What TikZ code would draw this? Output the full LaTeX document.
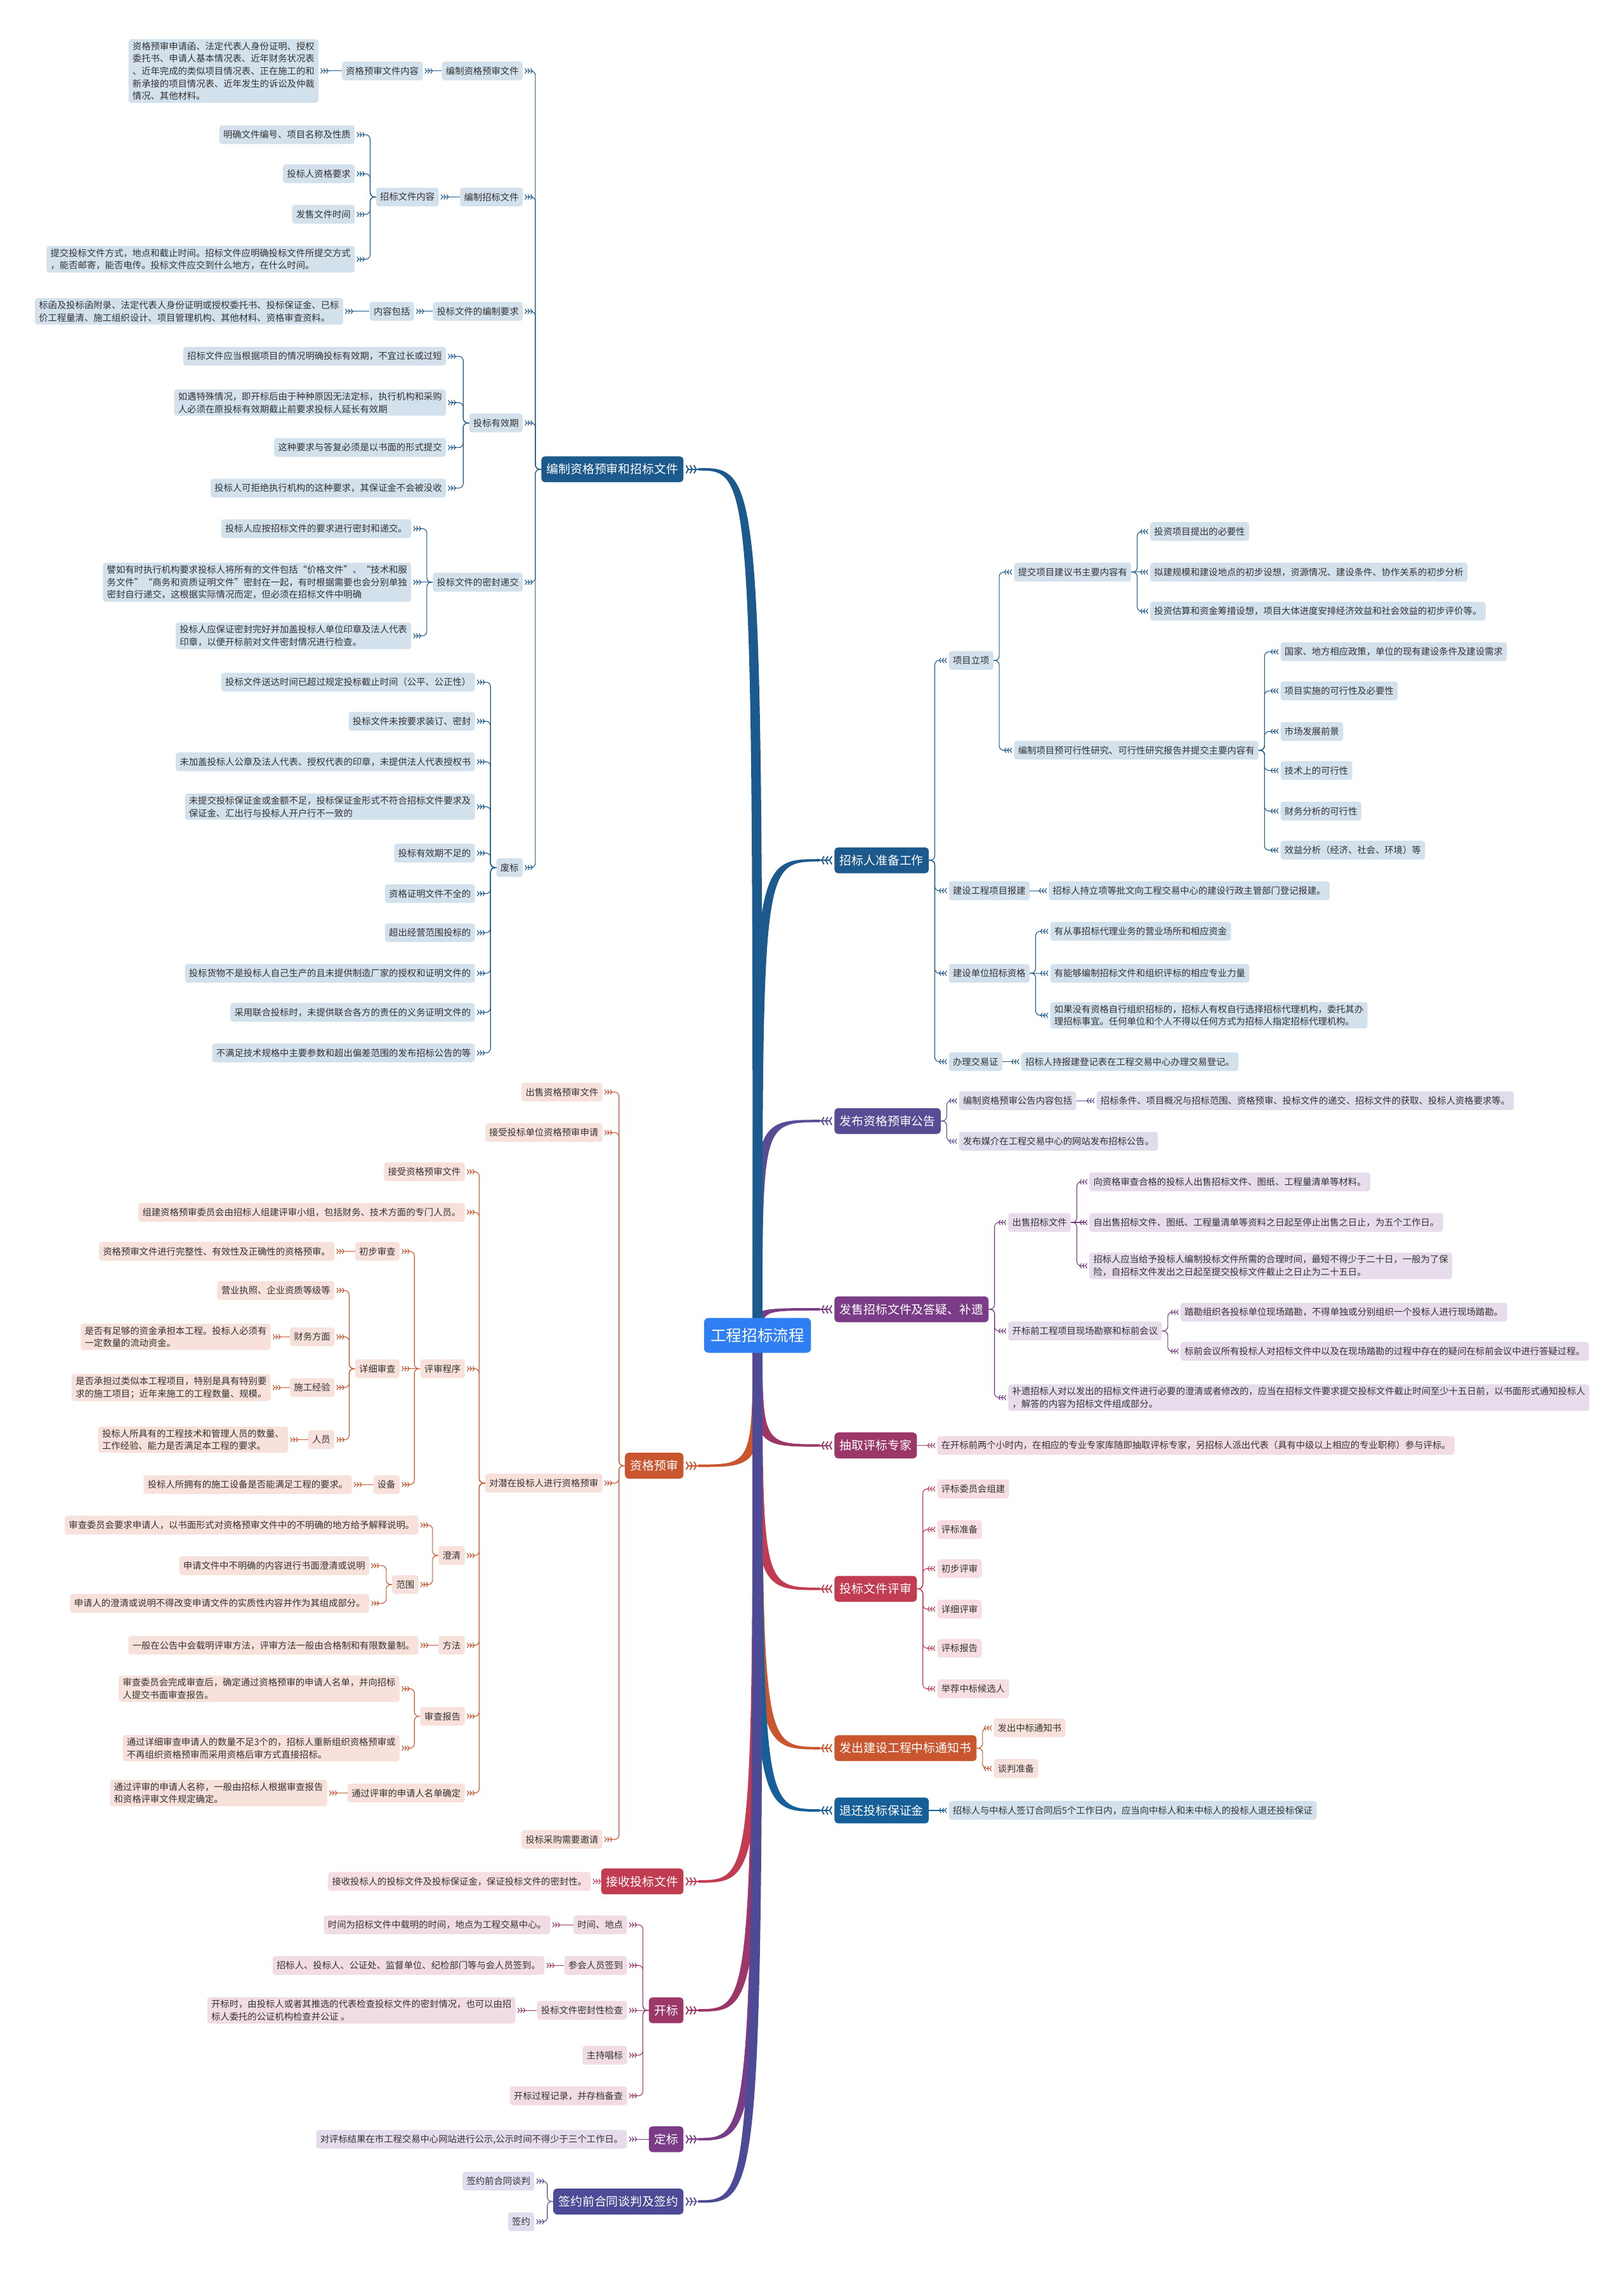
\documentclass[tikz,border=0pt]{standalone}
\usepackage{fontspec}
\setmainfont{Noto Sans CJK SC}
\usetikzlibrary{arrows.meta,calc,positioning}

\definecolor{ink}{HTML}{333333}
\definecolor{topicblue}{HTML}{2F7EF2}
\definecolor{navy}{HTML}{1C5A8E}
\definecolor{navylt}{HTML}{D3E1ED}
\definecolor{indigo}{HTML}{584C95}
\definecolor{indigolt}{HTML}{DFDCEC}
\definecolor{plum}{HTML}{7A3C86}
\definecolor{plumlt}{HTML}{E7DCEB}
\definecolor{berry}{HTML}{9C3769}
\definecolor{berrylt}{HTML}{F1DCE5}
\definecolor{rose}{HTML}{C23C51}
\definecolor{roselt}{HTML}{F7DEE2}
\definecolor{rust}{HTML}{C9562F}
\definecolor{rustlt}{HTML}{F7E1DA}
\definecolor{sea}{HTML}{165F99}
\definecolor{iris}{HTML}{4D4A96}
\definecolor{irislt}{HTML}{E0DEEE}

\pgfdeclarelayer{bg}
\pgfsetlayers{bg,main}

\newcommand{\leaffont}{\fontsize{10.2}{14}\selectfont}
\newcommand{\branchfont}{\fontsize{13.4}{16}\selectfont}
\newcommand{\topicfont}{\fontsize{17.5}{21}\selectfont}

% tapered band from the central topic to a branch
\newcommand{\trunk}[3]{%
  \fill[fill=#1] let \p1=(root.center), \p2=(#2) in
    ({\x1-5.5pt},\y1) .. controls ({\x1-5.5pt},{\y2+(#3)*1.4pt}) .. ({\x2},{\y2+(#3)*1.4pt})
    -- ({\x2},{\y2-(#3)*1.4pt}) .. controls ({\x1+5.5pt},{\y2-(#3)*1.4pt}) .. ({\x1+5.5pt},\y1) -- cycle;}

\begin{document}
\begin{tikzpicture}[
  x=0.5709mm, y=-0.5709mm,
  box/.style={rectangle, rounded corners=3pt, fill=#1, text=ink, font=\leaffont,
    inner xsep=4.5pt, inner ysep=3pt, minimum height=21pt, align=left},
  lbox/.style={box=#1, anchor=east},
  rbox/.style={box=#1, anchor=west},
  branch/.style={rectangle, rounded corners=4pt, fill=#1, text=white, font=\branchfont,
    inner xsep=6pt, minimum height=29pt},
  topic/.style={rectangle, rounded corners=5pt, fill=topicblue, text=white, font=\topicfont,
    inner xsep=7.5pt, minimum height=39pt},
  chev/.style={-{Straight Barb[reversed,length=1.8pt,width=5.5pt,sep=0.5pt]
    Straight Barb[reversed,length=1.8pt,width=5.5pt,sep=0.5pt]
    Straight Barb[reversed,length=1.8pt,width=5.5pt,sep=0.5pt]}},
  link/.style={draw=#1, line width=0.8pt, rounded corners=5pt, shorten >=1.5pt, chev},
  bigchev/.style={draw=#1, line width=1.3pt,
    -{Straight Barb[reversed,length=2.5pt,width=9pt,sep=0.5pt]
    Straight Barb[reversed,length=2.5pt,width=9pt,sep=0.5pt]
    Straight Barb[reversed,length=2.5pt,width=9pt,sep=0.5pt]}}
]
\useasboundingbox (0,0) rectangle (1121,1568);
\begin{pgfonlayer}{bg}
  \fill[white] (0,0) rectangle (1121,1568);
\end{pgfonlayer}

\node[topic] (root) at (523,922) {工程招标流程};

% main branches
\node[branch=navy, anchor=west] (prepare) at (576,594) {招标人准备工作};
\node[branch=indigo, anchor=west] (notice) at (576,774) {发布资格预审公告};
\node[branch=plum, anchor=west] (sell) at (576,904) {发售招标文件及答疑、补遗};
\node[branch=berry, anchor=west] (expert) at (576,998) {抽取评标专家};
\node[branch=rose, anchor=west] (review) at (576,1097) {投标文件评审};
\node[branch=rust, anchor=west] (notify) at (576,1207) {发出建设工程中标通知书};
\node[branch=sea, anchor=west] (refund) at (576,1250) {退还投标保证金};
\node[branch=navy, anchor=east] (compile) at (472,324) {编制资格预审和招标文件};
\node[branch=rust, anchor=east] (prequal) at (472,1012) {资格预审};
\node[branch=rose, anchor=east] (receive) at (472,1299) {接收投标文件};
\node[branch=berry, anchor=east] (opening) at (472,1388) {开标};
\node[branch=plum, anchor=east] (award) at (472,1477) {定标};
\node[branch=iris, anchor=east] (sign) at (472,1520) {签约前合同谈判及签约};

% 编制资格预审和招标文件
\node[lbox=navylt] (c1) at (361,49) {编制资格预审文件};
\node[lbox=navylt] (c11) at (292,49) {资格预审文件内容};
\node[lbox=navylt] (c111) at (220,49) {资格预审申请函、法定代表人身份证明、授权\\委托书、申请人基本情况表、近年财务状况表\\、近年完成的类似项目情况表、正在施工的和\\新承接的项目情况表、近年发生的诉讼及仲裁\\情况、其他材料。};
\node[lbox=navylt] (c2) at (361,136) {编制招标文件};
\node[lbox=navylt] (c21) at (303,136) {招标文件内容};
\node[lbox=navylt] (c211) at (245,93) {明确文件编号、项目名称及性质};
\node[lbox=navylt] (c212) at (245,120) {投标人资格要求};
\node[lbox=navylt] (c213) at (245,148) {发售文件时间};
\node[lbox=navylt] (c214) at (245,179) {提交投标文件方式，地点和截止时间。招标文件应明确投标文件所提交方式\\，能否邮寄，能否电传。投标文件应交到什么地方，在什么时间。};
\node[lbox=navylt] (c3) at (361,215) {投标文件的编制要求};
\node[lbox=navylt] (c31) at (286,215) {内容包括};
\node[lbox=navylt] (c311) at (237,215) {标函及投标函附录、法定代表人身份证明或授权委托书、投标保证金、已标\\价工程量清、施工组织设计、项目管理机构、其他材料、资格审查资料。};
\node[lbox=navylt] (c4) at (361,292) {投标有效期};
\node[lbox=navylt] (c41) at (308,246) {招标文件应当根据项目的情况明确投标有效期，不宜过长或过短};
\node[lbox=navylt] (c42) at (308,278) {如遇特殊情况，即开标后由于种种原因无法定标，执行机构和采购\\人必须在原投标有效期截止前要求投标人延长有效期};
\node[lbox=navylt] (c43) at (308,309) {这种要求与答复必须是以书面的形式提交};
\node[lbox=navylt] (c44) at (308,337) {投标人可拒绝执行机构的这种要求，其保证金不会被没收};
\node[lbox=navylt] (c5) at (361,402) {投标文件的密封递交};
\node[lbox=navylt] (c51) at (284,365) {投标人应按招标文件的要求进行密封和递交。};
\node[lbox=navylt] (c52) at (284,402) {譬如有时执行机构要求投标人将所有的文件包括“价格文件”、“技术和服\\务文件”“商务和资质证明文件”密封在一起，有时根据需要也会分别单独\\密封自行递交，这根据实际情况而定，但必须在招标文件中明确};
\node[lbox=navylt] (c53) at (284,439) {投标人应保证密封完好并加盖投标人单位印章及法人代表\\印章，以便开标前对文件密封情况进行检查。};
\node[lbox=navylt] (c6) at (361,599) {废标};
\node[lbox=navylt] (c61) at (328,471) {投标文件送达时间已超过规定投标截止时间（公平、公正性）};
\node[lbox=navylt] (c62) at (328,498) {投标文件未按要求装订、密封};
\node[lbox=navylt] (c63) at (328,526) {未加盖投标人公章及法人代表、授权代表的印章，未提供法人代表授权书};
\node[lbox=navylt] (c64) at (328,557) {未提交投标保证金或金额不足，投标保证金形式不符合招标文件要求及\\保证金、汇出行与投标人开户行不一致的};
\node[lbox=navylt] (c65) at (328,589) {投标有效期不足的};
\node[lbox=navylt] (c66) at (328,617) {资格证明文件不全的};
\node[lbox=navylt] (c67) at (328,644) {超出经营范围投标的};
\node[lbox=navylt] (c68) at (328,672) {投标货物不是投标人自己生产的且未提供制造厂家的授权和证明文件的};
\node[lbox=navylt] (c69) at (328,699) {采用联合投标时，未提供联合各方的责任的义务证明文件的};
\node[lbox=navylt] (c610) at (328,727) {不满足技术规格中主要参数和超出偏差范围的发布招标公告的等};

% 资格预审
\node[lbox=rustlt] (p1) at (416,754) {出售资格预审文件};
\node[lbox=rustlt] (p2) at (416,782) {接受投标单位资格预审申请};
\node[lbox=rustlt] (p3) at (416,1024) {对潜在投标人进行资格预审};
\node[lbox=rustlt] (p4) at (416,1270) {投标采购需要邀请};
\node[lbox=rustlt] (p31) at (321,809) {接受资格预审文件};
\node[lbox=rustlt] (p32) at (321,837) {组建资格预审委员会由招标人组建评审小组，包括财务、技术方面的专门人员。};
\node[lbox=rustlt] (p33) at (321,945) {评审程序};
\node[lbox=rustlt] (p331) at (276,864) {初步审查};
\node[lbox=rustlt] (p3311) at (231,864) {资格预审文件进行完整性、有效性及正确性的资格预审。};
\node[lbox=rustlt] (p332) at (276,945) {详细审查};
\node[lbox=rustlt] (p3321) at (231,891) {营业执照、企业资质等级等};
\node[lbox=rustlt] (p3322) at (231,923) {财务方面};
\node[lbox=rustlt] (p33221) at (187,923) {是否有足够的资金承担本工程。投标人必须有\\一定数量的流动资金。};
\node[lbox=rustlt] (p3323) at (231,958) {施工经验};
\node[lbox=rustlt] (p33231) at (187,958) {是否承担过类似本工程项目，特别是具有特别要\\求的施工项目；近年来施工的工程数量、规模。};
\node[lbox=rustlt] (p3324) at (231,994) {人员};
\node[lbox=rustlt] (p33241) at (199,994) {投标人所具有的工程技术和管理人员的数量、\\工作经验、能力是否满足本工程的要求。};
\node[lbox=rustlt] (p333) at (276,1025) {设备};
\node[lbox=rustlt] (p3331) at (243,1025) {投标人所拥有的施工设备是否能满足工程的要求。};
\node[lbox=rustlt] (p34) at (321,1074) {澄清};
\node[lbox=rustlt] (p341) at (289,1053) {审查委员会要求申请人，以书面形式对资格预审文件中的不明确的地方给予解释说明。};
\node[lbox=rustlt] (p342) at (289,1094) {范围};
\node[lbox=rustlt] (p3421) at (255,1081) {申请文件中不明确的内容进行书面澄清或说明};
\node[lbox=rustlt] (p3422) at (255,1107) {申请人的澄清或说明不得改变申请文件的实质性内容并作为其组成部分。};
\node[lbox=rustlt] (p35) at (321,1136) {方法};
\node[lbox=rustlt] (p351) at (289,1136) {一般在公告中会载明评审方法，评审方法一般由合格制和有限数量制。};
\node[lbox=rustlt] (p36) at (321,1185) {审查报告};
\node[lbox=rustlt] (p361) at (276,1166) {审查委员会完成审查后，确定通过资格预审的申请人名单，并向招标\\人提交书面审查报告。};
\node[lbox=rustlt] (p362) at (276,1207) {通过详细审查申请人的数量不足3个的，招标人重新组织资格预审或\\不再组织资格预审而采用资格后审方式直接招标。};
\node[lbox=rustlt] (p37) at (321,1238) {通过评审的申请人名单确定};
\node[lbox=rustlt] (p371) at (226,1238) {通过评审的申请人名称，一般由招标人根据审查报告\\和资格评审文件规定确定。};

% 接收投标文件, 开标, 定标, 签约
\node[lbox=roselt] (r1) at (408,1299) {接收投标人的投标文件及投标保证金，保证投标文件的密封性。};
\node[lbox=berrylt] (o1) at (433,1329) {时间、地点};
\node[lbox=berrylt] (o11) at (380,1329) {时间为招标文件中载明的时间，地点为工程交易中心。};
\node[lbox=berrylt] (o2) at (433,1357) {参会人员签到};
\node[lbox=berrylt] (o21) at (376,1357) {招标人、投标人、公证处、监督单位、纪检部门等与会人员签到。};
\node[lbox=berrylt] (o3) at (433,1388) {投标文件密封性检查};
\node[lbox=berrylt] (o31) at (356,1388) {开标时，由投标人或者其推选的代表检查投标文件的密封情况，也可以由招\\标人委托的公证机构检查并公证 。};
\node[lbox=berrylt] (o4) at (433,1419) {主持唱标};
\node[lbox=berrylt] (o5) at (433,1447) {开标过程记录，并存档备查};
\node[lbox=plumlt] (a1) at (433,1477) {对评标结果在市工程交易中心网站进行公示,公示时间不得少于三个工作日。};
\node[lbox=irislt] (s1) at (369,1506) {签约前合同谈判};
\node[lbox=irislt] (s2) at (369,1534) {签约};

% 招标人准备工作
\node[rbox=navylt] (z1) at (655,456) {项目立项};
\node[rbox=navylt] (z11) at (700,395) {提交项目建议书主要内容有};
\node[rbox=navylt] (z111) at (794,367) {投资项目提出的必要性};
\node[rbox=navylt] (z112) at (794,395) {拟建规模和建设地点的初步设想，资源情况、建设条件、协作关系的初步分析};
\node[rbox=navylt] (z113) at (794,422) {投资估算和资金筹措设想，项目大体进度安排经济效益和社会效益的初步评价等。};
\node[rbox=navylt] (z12) at (700,518) {编制项目预可行性研究、可行性研究报告并提交主要内容有};
\node[rbox=navylt] (z121) at (884,450) {国家、地方相应政策，单位的现有建设条件及建设需求};
\node[rbox=navylt] (z122) at (884,477) {项目实施的可行性及必要性};
\node[rbox=navylt] (z123) at (884,505) {市场发展前景};
\node[rbox=navylt] (z124) at (884,532) {技术上的可行性};
\node[rbox=navylt] (z125) at (884,560) {财务分析的可行性};
\node[rbox=navylt] (z126) at (884,587) {效益分析（经济、社会、环境）等};
\node[rbox=navylt] (z2) at (655,615) {建设工程项目报建};
\node[rbox=navylt] (z21) at (724,615) {招标人持立项等批文向工程交易中心的建设行政主管部门登记报建。};
\node[rbox=navylt] (z3) at (655,672) {建设单位招标资格};
\node[rbox=navylt] (z31) at (725,643) {有从事招标代理业务的营业场所和相应资金};
\node[rbox=navylt] (z32) at (725,672) {有能够编制招标文件和组织评标的相应专业力量};
\node[rbox=navylt] (z33) at (725,701) {如果没有资格自行组织招标的，招标人有权自行选择招标代理机构，委托其办\\理招标事宜。任何单位和个人不得以任何方式为招标人指定招标代理机构。};
\node[rbox=navylt] (z4) at (655,733) {办理交易证};
\node[rbox=navylt] (z41) at (705,733) {招标人持报建登记表在工程交易中心办理交易登记。};

% 发布资格预审公告
\node[rbox=indigolt] (n1) at (662,760) {编制资格预审公告内容包括};
\node[rbox=indigolt] (n11) at (757,760) {招标条件、项目概况与招标范围、资格预审、投标文件的递交、招标文件的获取、投标人资格要求等。};
\node[rbox=indigolt] (n2) at (662,788) {发布媒介在工程交易中心的网站发布招标公告。};

% 发售招标文件及答疑、补遗
\node[rbox=plumlt] (f1) at (696,844) {出售招标文件};
\node[rbox=plumlt] (f11) at (752,816) {向资格审查合格的投标人出售招标文件、图纸、工程量清单等材料。};
\node[rbox=plumlt] (f12) at (752,844) {自出售招标文件、图纸、工程量清单等资料之日起至停止出售之日止，为五个工作日。};
\node[rbox=plumlt] (f13) at (752,874) {招标人应当给予投标人编制投标文件所需的合理时间，最短不得少于二十日，一般为了保\\险，自招标文件发出之日起至提交投标文件截止之日止为二十五日。};
\node[rbox=plumlt] (f2) at (696,919) {开标前工程项目现场勘察和标前会议};
\node[rbox=plumlt] (f21) at (815,906) {踏勘组织各投标单位现场踏勘，不得单独或分别组织一个投标人进行现场踏勘。};
\node[rbox=plumlt] (f22) at (815,933) {标前会议所有投标人对招标文件中以及在现场踏勘的过程中存在的疑问在标前会议中进行答疑过程。};
\node[rbox=plumlt] (f3) at (696,965) {补遗招标人对以发出的招标文件进行必要的澄清或者修改的，应当在招标文件要求提交投标文件截止时间至少十五日前，以书面形式通知投标人\\，解答的内容为招标文件组成部分。};

% 抽取评标专家, 投标文件评审, 中标通知书, 退还保证金
\node[rbox=berrylt] (e1) at (647,998) {在开标前两个小时内，在相应的专业专家库随即抽取评标专家，另招标人派出代表（具有中级以上相应的专业职称）参与评标。};
\node[rbox=roselt] (v1) at (647,1028) {评标委员会组建};
\node[rbox=roselt] (v2) at (647,1056) {评标准备};
\node[rbox=roselt] (v3) at (647,1083) {初步评审};
\node[rbox=roselt] (v4) at (647,1111) {详细评审};
\node[rbox=roselt] (v5) at (647,1138) {评标报告};
\node[rbox=roselt] (v6) at (647,1166) {举荐中标候选人};
\node[rbox=rustlt] (t1) at (686,1193) {发出中标通知书};
\node[rbox=rustlt] (t2) at (686,1221) {谈判准备};
\node[rbox=navylt] (d1) at (655,1250) {招标人与中标人签订合同后5个工作日内，应当向中标人和未中标人的投标人退还投标保证};

% chevrons where the bands meet the branches
\foreach \b/\c in {prepare/navy, notice/indigo, sell/plum, expert/berry, review/rose, notify/rust, refund/sea}{
  \coordinate (in\b) at ($(\b.west)+(-10,0)$);
  \draw[bigchev=\c] (in\b) -- ($(\b.west)+(-1,0)$);
}
\foreach \b/\c in {compile/navy, prequal/rust, receive/rose, opening/berry, award/plum, sign/iris}{
  \coordinate (in\b) at ($(\b.east)+(10,0)$);
  \draw[bigchev=\c] (in\b) -- ($(\b.east)+(1,0)$);
}

\begin{pgfonlayer}{bg}
  \foreach \b/\c/\s in {prepare/navy/1, notice/indigo/1, sell/plum/1, expert/berry/-1,
      review/rose/-1, notify/rust/-1, refund/sea/-1, compile/navy/-1, prequal/rust/1,
      receive/rose/1, opening/berry/1, award/plum/1, sign/iris/1}
    \trunk{\c}{in\b}{\s};
\end{pgfonlayer}

% left side links
\foreach \k in {c1,c2,c3,c4,c5,c6}
  \draw[link=navy] (compile.west) -- ++(-4,0) |- (\k.east);
\draw[link=navy] (c1.west) -- (c11.east);
\draw[link=navy] (c11.west) -- (c111.east);
\draw[link=navy] (c2.west) -- (c21.east);
\foreach \k in {c211,c212,c213,c214}
  \draw[link=navy] (c21.west) -- ++(-4,0) |- (\k.east);
\draw[link=navy] (c3.west) -- (c31.east);
\draw[link=navy] (c31.west) -- (c311.east);
\foreach \k in {c41,c42,c43,c44}
  \draw[link=navy] (c4.west) -- ++(-4,0) |- (\k.east);
\foreach \k in {c51,c53}
  \draw[link=navy] (c5.west) -- ++(-4,0) |- (\k.east);
\draw[link=navy] (c5.west) -- (c52.east);
\foreach \k in {c61,c62,c63,c64,c65,c66,c67,c68,c69,c610}
  \draw[link=navy] (c6.west) -- ++(-4,0) |- (\k.east);

\foreach \k in {p1,p2,p3,p4}
  \draw[link=rust] (prequal.west) -- ++(-4,0) |- (\k.east);
\foreach \k in {p31,p32,p33,p34,p35,p36,p37}
  \draw[link=rust] (p3.west) -- ++(-4,0) |- (\k.east);
\foreach \k in {p331,p333}
  \draw[link=rust] (p33.west) -- ++(-4,0) |- (\k.east);
\draw[link=rust] (p33.west) -- (p332.east);
\draw[link=rust] (p331.west) -- (p3311.east);
\foreach \k in {p3321,p3322,p3323,p3324}
  \draw[link=rust] (p332.west) -- ++(-4,0) |- (\k.east);
\draw[link=rust] (p3322.west) -- (p33221.east);
\draw[link=rust] (p3323.west) -- (p33231.east);
\draw[link=rust] (p3324.west) -- (p33241.east);
\draw[link=rust] (p333.west) -- (p3331.east);
\foreach \k in {p341,p342}
  \draw[link=rust] (p34.west) -- ++(-4,0) |- (\k.east);
\foreach \k in {p3421,p3422}
  \draw[link=rust] (p342.west) -- ++(-4,0) |- (\k.east);
\draw[link=rust] (p35.west) -- (p351.east);
\foreach \k in {p361,p362}
  \draw[link=rust] (p36.west) -- ++(-4,0) |- (\k.east);
\draw[link=rust] (p37.west) -- (p371.east);

\draw[link=rose] (receive.west) -- (r1.east);
\foreach \k in {o1,o2,o4,o5}
  \draw[link=berry] (opening.west) -- ++(-4,0) |- (\k.east);
\draw[link=berry] (opening.west) -- (o3.east);
\draw[link=berry] (o1.west) -- (o11.east);
\draw[link=berry] (o2.west) -- (o21.east);
\draw[link=berry] (o3.west) -- (o31.east);
\draw[link=plum] (award.west) -- (a1.east);
\foreach \k in {s1,s2}
  \draw[link=iris] (sign.west) -- ++(-4,0) |- (\k.east);

% right side links
\foreach \k in {z1,z2,z3,z4}
  \draw[link=navy] (prepare.east) -- ++(4,0) |- (\k.west);
\foreach \k in {z11,z12}
  \draw[link=navy] (z1.east) -- ++(4,0) |- (\k.west);
\foreach \k in {z111,z113}
  \draw[link=navy] (z11.east) -- ++(4,0) |- (\k.west);
\draw[link=navy] (z11.east) -- (z112.west);
\foreach \k in {z121,z122,z123,z124,z125,z126}
  \draw[link=navy] (z12.east) -- ++(4,0) |- (\k.west);
\draw[link=navy] (z2.east) -- (z21.west);
\foreach \k in {z31,z33}
  \draw[link=navy] (z3.east) -- ++(4,0) |- (\k.west);
\draw[link=navy] (z3.east) -- (z32.west);
\draw[link=navy] (z4.east) -- (z41.west);

\foreach \k in {n1,n2}
  \draw[link=indigo] (notice.east) -- ++(4,0) |- (\k.west);
\draw[link=indigo] (n1.east) -- (n11.west);

\foreach \k in {f1,f2,f3}
  \draw[link=plum] (sell.east) -- ++(4,0) |- (\k.west);
\foreach \k in {f11,f13}
  \draw[link=plum] (f1.east) -- ++(4,0) |- (\k.west);
\draw[link=plum] (f1.east) -- (f12.west);
\foreach \k in {f21,f22}
  \draw[link=plum] (f2.east) -- ++(4,0) |- (\k.west);

\draw[link=berry] (expert.east) -- (e1.west);
\foreach \k in {v1,v2,v3,v4,v5,v6}
  \draw[link=rose] (review.east) -- ++(4,0) |- (\k.west);
\foreach \k in {t1,t2}
  \draw[link=rust] (notify.east) -- ++(4,0) |- (\k.west);
\draw[link=sea] (refund.east) -- (d1.west);

\end{tikzpicture}
\end{document}
